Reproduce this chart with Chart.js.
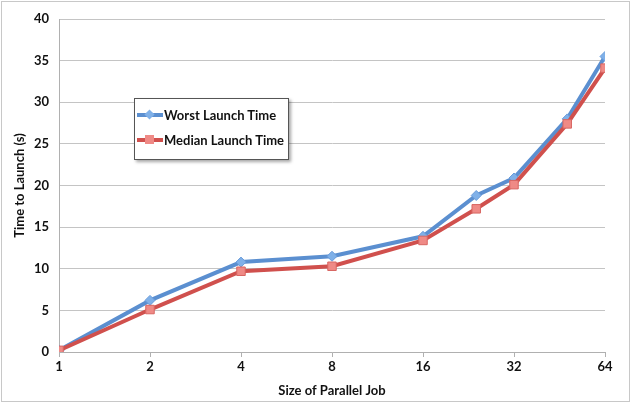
<!DOCTYPE html>
<html>
<head>
<meta charset="utf-8">
<script src="https://cdn.jsdelivr.net/npm/chart.js@4.4.1/dist/chart.umd.min.js"></script>
<style>
  body { margin: 0; background: #fff; }
  #wrap { position: relative; width: 631px; height: 403px; }
  #legend {
    position: absolute; left: 134px; top: 98px; width: 153px; height: 60px;
    background: #fff; border: 1px solid #555; box-shadow: 2px 2px 3px rgba(0,0,0,0.35);
    font-family: Lato, sans-serif; font-weight: bold; font-size: 13px; color: #111;
  }
  .row { position: absolute; left: 2px; height: 16px; display: flex; align-items: center; }
  .sw { position: relative; width: 26px; height: 16px; margin-right: 1px; }
  .sw .ln { position: absolute; left: 0; right: 0; top: 6px; height: 4px; }
  .sw .mk { position: absolute; left: 8px; top: 3px; width: 9px; height: 9px; }
</style>
</head>
<body>
<div id="wrap">
  <canvas id="myChart" width="631" height="403"></canvas>
  <div id="legend">
    <div class="row" style="top:8px">
      <div class="sw"><div class="ln" style="background:#5b8fd0"></div><div class="mk" style="background:#7fb0e8;transform:rotate(45deg) scale(0.8)"></div></div>
      <span>Worst Launch Time</span>
    </div>
    <div class="row" style="top:33px">
      <div class="sw"><div class="ln" style="background:#d0504d"></div><div class="mk" style="background:#ef8a86"></div></div>
      <span>Median Launch Time</span>
    </div>
  </div>
</div>
<script>
// job sizes (log2 x axis) and launch times in seconds
const jobSizes = [1, 2, 4, 8, 16, 24, 32, 48, 64];
const worstTimes = [0.2, 6.2, 10.8, 11.5, 13.9, 18.8, 20.9, 28.0, 35.5];
const medianTimes = [0.2, 5.1, 9.7, 10.3, 13.4, 17.2, 20.1, 27.4, 34.1];
const xTicks = [1, 2, 4, 8, 16, 32, 64];

const frame = {
    id: 'frame',
    beforeDraw(chart) {
        const c = chart.ctx;
        c.save();
        c.fillStyle = '#fff';
        c.fillRect(0, 0, chart.width, chart.height);
        c.strokeStyle = '#c8c8c8';
        c.lineWidth = 1;
        c.strokeRect(1.5, 1.5, chart.width - 3, chart.height - 3);
        c.restore();
    }
};

const font = { family: 'Lato, sans-serif', size: 13, weight: 'bold' };

const ctx = document.getElementById('myChart').getContext('2d');
const myChart = new Chart(ctx, {
    type: 'line',
    data: {
        datasets: [
            {
                label: 'Median Launch Time',
                data: jobSizes.map((x, i) => ({ x: x, y: medianTimes[i] })),
                borderColor: '#d0504d',
                backgroundColor: '#ef8a86',
                pointBorderColor: '#d86662',
                pointStyle: 'rect',
                pointRadius: 6,
                pointBorderWidth: 1,
                borderWidth: 4,
                tension: 0
            },
            {
                label: 'Worst Launch Time',
                data: jobSizes.map((x, i) => ({ x: x, y: worstTimes[i] })),
                borderColor: '#5b8fd0',
                backgroundColor: '#7fb0e8',
                pointBorderColor: '#6a9cdb',
                pointStyle: 'rectRot',
                pointRadius: 5,
                pointBorderWidth: 1,
                borderWidth: 4,
                tension: 0
            }
        ]
    },
    options: {
        responsive: false,
        animation: false,
        layout: { padding: { left: 0, top: 19, right: 26, bottom: 0 } },
        plugins: { legend: { display: false }, tooltip: { enabled: false } },
        scales: {
            x: {
                type: 'logarithmic',
                min: 1,
                max: 64,
                afterBuildTicks: scale => { scale.ticks = xTicks.map(v => ({ value: v })); },
                afterFit: scale => { scale.height = 51; },
                ticks: { color: '#111', font: font, padding: 2, callback: v => String(v), maxRotation: 0 },
                grid: { drawOnChartArea: false, color: '#b0b0b0', tickLength: 5 },
                border: { color: '#b0b0b0' },
                title: { display: true, text: 'Size of Parallel Job', color: '#111', font: font, padding: { top: 2 } }
            },
            y: {
                min: 0,
                max: 40,
                afterFit: scale => { scale.width = 59; },
                ticks: { stepSize: 5, color: '#111', font: font, padding: 10 },
                grid: { color: '#c4c4c4', tickLength: 0 },
                border: { color: '#b0b0b0' },
                title: { display: true, text: 'Time to Launch (s)', color: '#111', font: font, padding: { top: 12, bottom: 0 } }
            }
        }
    },
    plugins: [frame]
});
</script>
</body>
</html>
